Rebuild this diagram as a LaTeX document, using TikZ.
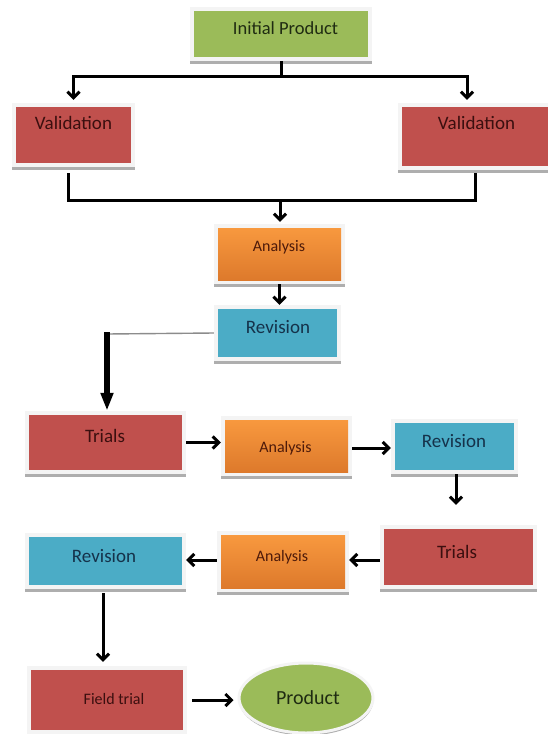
\documentclass[tikz,border=0pt]{standalone}
\usepackage{fontspec}
\setmainfont{Carlito}
\usetikzlibrary{arrows.meta,shadows,shapes.geometric}
\definecolor{cgreen}{HTML}{9BBB59}
\definecolor{cred}{HTML}{C0504D}
\definecolor{cblue}{HTML}{4BACC6}
\definecolor{corangeT}{HTML}{FA9B40}
\definecolor{corangeB}{HTML}{DB772A}
\definecolor{framec}{HTML}{F4F4F4}
\definecolor{tred}{HTML}{3B0F0F}
\definecolor{tgreen}{HTML}{1F2B12}
\definecolor{tblue}{HTML}{15324A}
\definecolor{torange}{HTML}{4D1A0A}
\begin{document}
\begin{tikzpicture}[x=1pt,y=-1pt,
  box/.style={rectangle, fill=framec, inner sep=0pt,
    drop shadow={shadow xshift=0.3pt, shadow yshift=-2.5pt, fill=black!45, opacity=0.7},
    path picture={\path[#1] ([shift={(4pt,4pt)}]path picture bounding box.south west)
       rectangle ([shift={(-4pt,-4pt)}]path picture bounding box.north east);}},
  redbox/.style={box={fill=cred}},
  greenbox/.style={box={fill=cgreen}},
  bluebox/.style={box={fill=cblue}},
  orangebox/.style={box={top color=corangeT, bottom color=corangeB}},
  txt/.style={inner sep=0pt, anchor=base},
  big/.style={font=\fontsize{19}{21}\selectfont},
  mid/.style={font=\fontsize{16}{18}\selectfont},
  conn/.style={line width=3pt},
  arr/.style={line width=3pt, -{Straight Barb[length=6pt,width=12pt]}},
  heavyarr/.style={line width=5.5pt, -{Triangle[length=18pt,width=12pt]}},
  grayline/.style={line width=1.4pt, draw=black!45}
]
\fill[white] (0,0) rectangle (547,734);
\useasboundingbox (0,0) rectangle (547,734);

% boxes
\node[greenbox, minimum width=182pt, minimum height=54pt] (ip) at (281,34) {};
\node[redbox, minimum width=123pt, minimum height=64pt] (vl) at (73.5,135) {};
\node[redbox, minimum width=155pt, minimum height=67pt] (vr) at (475.5,136.5) {};
\node[orangebox, minimum width=131pt, minimum height=60pt] (a1) at (279.5,254) {};
\node[bluebox, minimum width=127pt, minimum height=56pt] (r1) at (277.5,333) {};
\node[redbox, minimum width=161pt, minimum height=63pt] (t1) at (105.5,442.5) {};
\node[orangebox, minimum width=131pt, minimum height=60pt] (a2) at (286.5,446) {};
\node[bluebox, minimum width=127pt, minimum height=55pt] (r2) at (454.5,446.5) {};
\node[redbox, minimum width=157pt, minimum height=64pt] (t2) at (458.5,557) {};
\node[orangebox, minimum width=132pt, minimum height=61pt] (a3) at (283,561.5) {};
\node[bluebox, minimum width=161pt, minimum height=56pt] (r3) at (105.5,561) {};
\node[redbox, minimum width=160pt, minimum height=68pt] (ft) at (107,700) {};
\node[ellipse, fill=cgreen, draw=framec, line width=3pt, inner sep=0pt,
      minimum width=134pt, minimum height=70pt,
      drop shadow={shadow xshift=0.3pt, shadow yshift=-2.5pt, fill=black!45, opacity=0.7}] (pr) at (306,698) {};

% texts
\node[txt, tgreen, font=\fontsize{18.5}{20}\selectfont] (ipT) at (285.5,34.3) {Initial Product};
\node[txt, tred, big] (vlT) at (73.5,129.6) {Validation};
\node[txt, tred, big] (vrT) at (476.5,129.1) {Validation};
\node[txt, torange, mid] (a1T) at (279,251) {Analysis};
\node[txt, tblue, big] (r1T) at (278,333) {Revision};
\node[txt, tred, big] (t1T) at (105,442) {Trials};
\node[txt, torange, mid] (a2T) at (285.5,452) {Analysis};
\node[txt, tblue, big] (r2T) at (454,447) {Revision};
\node[txt, tred, big] (t2T) at (457,558) {Trials};
\node[txt, torange, mid] (a3T) at (282,561) {Analysis};
\node[txt, tblue, big] (r3T) at (104,562) {Revision};
\node[txt, tred, mid] (ftT) at (114,704) {Field trial};
\node[txt, tgreen, font=\fontsize{20}{22}\selectfont] (prT) at (308,704) {Product};

% connectors
\coordinate (j1) at (281,76);
\draw[conn] (ip.south) -- (j1);
\draw[arr, shorten >=3pt] (j1) -| (vl.north);
\draw[arr, shorten >=3pt] (j1) -| ([xshift=-8.5pt]vr.north);

\coordinate (j2) at (280,200);
\draw[conn, shorten <=6pt, shorten >=3pt] ([xshift=-5.5pt]vl.south) |- (j2) -| (vr.south);
\draw[arr, shorten >=2pt] (j2) -- (j2 |- a1.north);

\draw[arr] (a1.south) -- (a1.south |- r1.north);

\coordinate (k1) at (107,334);
\draw[grayline] (r1.west) -- (k1);
\draw[heavyarr] ([yshift=2pt]k1) -- (k1 |- t1.north);

\draw[arr] (t1.east) -- (t1.east -| a2.west);
\draw[arr] ([yshift=-2pt]a2.east) -- ([yshift=-2pt]a2.east -| r2.west);
\draw[arr, shorten >=20pt] ([xshift=1.5pt]r2.south) -- ([xshift=1.5pt]r2.south |- t2.north);
\draw[arr] ([yshift=-3pt]t2.west) -- ([yshift=-3pt]t2.west -| a3.east);
\draw[arr] ([yshift=1.5pt]a3.west) -- ([yshift=1.5pt]a3.west -| r3.east);
\draw[arr, shorten <=4pt, shorten >=4pt] ([xshift=-2.5pt]r3.south) -- ([xshift=-2.5pt]r3.south |- ft.north);
\draw[arr, shorten <=5pt, shorten >=4pt] (ft.east) -- (ft.east -| pr.west);
\end{tikzpicture}
\end{document}
